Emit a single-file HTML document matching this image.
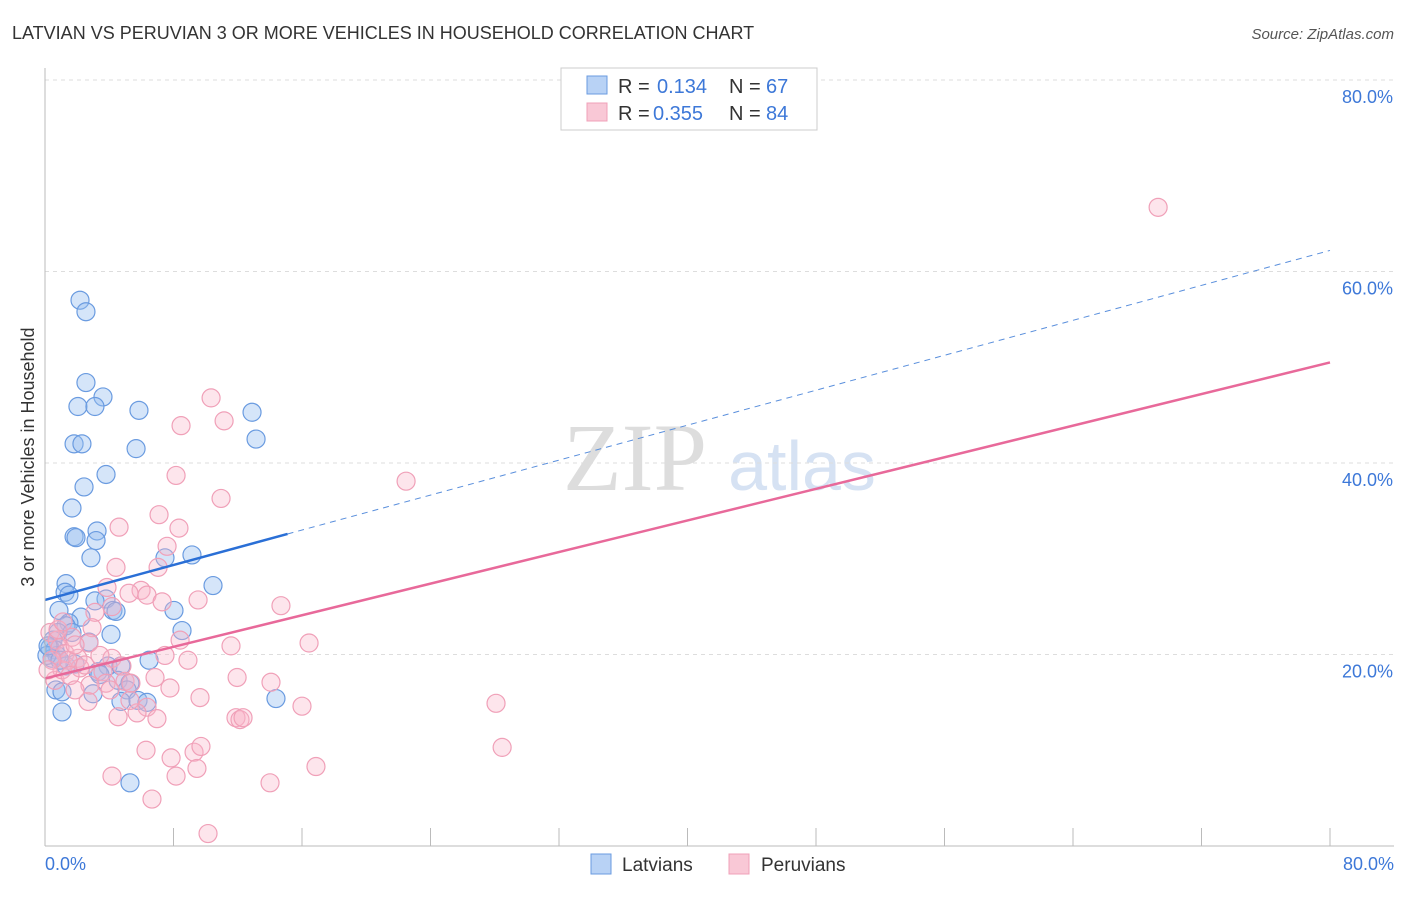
<!DOCTYPE html>
<html><head><meta charset="utf-8"><style>
body{margin:0;background:#fff;font-family:"Liberation Sans",sans-serif;}
</style></head><body>
<svg width="1406" height="892" xmlns="http://www.w3.org/2000/svg" id="chart">
<text x="12" y="39" font-size="18" fill="#333">LATVIAN VS PERUVIAN 3 OR MORE VEHICLES IN HOUSEHOLD CORRELATION CHART</text>
<text x="1394" y="39" font-size="15" fill="#555" font-style="italic" text-anchor="end">Source: ZipAtlas.com</text>
<text x="34" y="457" font-size="18" fill="#333" text-anchor="middle" transform="rotate(-90 34 457)">3 or more Vehicles in Household</text>
<text x="635" y="490" font-size="96" fill="#ddd" font-family="Liberation Serif,serif" text-anchor="middle">ZIP</text>
<text x="802" y="490" font-size="70" fill="#d6e2f3" text-anchor="middle">atlas</text>
<g id="grid"></g><g id="ticks"></g><g id="pts"></g><g id="lines"></g>
<line x1="45" y1="68" x2="45" y2="846" stroke="#bbb"/>
<line x1="45" y1="846" x2="1394" y2="846" stroke="#bbb"/>
<text x="45" y="870" font-size="18" fill="#3d78d8">0.0%</text>
<text x="1394" y="870" font-size="18" fill="#3d78d8" text-anchor="end">80.0%</text>
<g>
<rect x="561" y="68" width="256" height="62" fill="#fff" stroke="#ccc"/>
<rect x="587" y="76" width="20" height="18" fill="#b8d2f5" stroke="#6a9be0"/>
<rect x="587" y="103" width="20" height="18" fill="#f9c8d6" stroke="#f0a0b8"/>
<text x="618" y="93" font-size="20" fill="#333">R =</text>
<text x="657" y="93" font-size="20" fill="#3d78d8">0.134</text>
<text x="729" y="93" font-size="20" fill="#333">N =</text>
<text x="766" y="93" font-size="20" fill="#3d78d8">67</text>
<text x="618" y="120" font-size="20" fill="#333">R =</text>
<text x="653" y="120" font-size="20" fill="#3d78d8">0.355</text>
<text x="729" y="120" font-size="20" fill="#333">N =</text>
<text x="766" y="120" font-size="20" fill="#3d78d8">84</text>
</g>
<g>
<rect x="591" y="854" width="20" height="20" fill="#b8d2f5" stroke="#6a9be0"/>
<text x="622" y="871" font-size="19" fill="#333">Latvians</text>
<rect x="729" y="854" width="20" height="20" fill="#f9c8d6" stroke="#f0a0b8"/>
<text x="761" y="871" font-size="19" fill="#333">Peruvians</text>
</g>
</svg>
<script>
const yTicks=[20,40,60,80];
const xTickVals=[0,8,16,24,32,40,48,56,64,72,80];
const latX=[2.18,2.55,2.55,3.61,2.05,3.11,5.85,12.89,13.14,1.81,2.30,5.67,3.80,2.43,1.68,3.24,1.81,1.93,3.18,2.86,9.15,7.47,1.31,1.25,1.49,10.46,3.80,3.11,4.23,4.42,8.03,0.87,2.24,1.49,1.31,8.53,4.11,0.81,1.68,0.50,2.74,0.31,0.62,0.75,0.44,6.48,1.31,1.87,3.92,4.73,4.55,3.30,5.29,5.11,0.68,2.99,1.06,4.73,5.79,6.35,14.38,1.06,5.29,0.12,0.19,0.93,3.42];
const latY=[57.0,55.8,48.4,46.9,45.9,45.9,45.5,45.3,42.5,42.0,42.0,41.5,38.8,37.5,35.3,32.9,32.3,32.2,31.9,30.1,30.4,30.1,27.4,26.5,26.2,27.2,25.8,25.6,24.6,24.5,24.6,24.6,23.9,23.3,23.0,22.5,22.1,22.3,22.3,21.5,21.3,20.7,20.5,19.9,19.6,19.4,18.8,19.0,18.8,18.8,17.3,18.2,17.0,16.3,16.3,15.9,16.1,15.1,15.2,15.0,15.4,14.0,6.6,19.9,20.9,19.4,17.9];
const perX=[69.30,10.34,11.15,8.47,22.48,8.16,10.96,7.10,4.61,8.34,7.60,7.04,4.42,3.86,5.98,5.23,6.35,7.29,9.53,14.69,4.17,3.11,2.93,1.68,2.74,11.58,16.44,0.31,0.75,0.93,1.25,2.05,7.47,8.90,4.17,4.79,2.18,3.61,6.85,11.96,14.07,3.80,4.98,5.35,7.78,9.65,2.68,16.00,28.08,6.35,5.73,4.55,6.97,11.89,12.14,12.33,6.29,7.85,9.28,9.71,28.46,16.87,4.17,8.16,9.46,14.01,6.66,10.15,0.62,1.06,1.43,1.87,0.44,0.81,2.49,3.42,4.05,8.41,5.29,2.80,1.56,0.19,1.12,1.87];
const perY=[66.7,46.8,44.4,43.9,38.1,38.7,36.3,34.6,33.3,33.2,31.3,29.1,29.1,27.0,26.7,26.4,26.2,25.5,25.7,25.1,25.0,24.4,22.8,21.8,21.2,20.9,21.2,22.3,21.5,20.7,20.1,19.6,19.9,19.4,19.6,18.8,18.6,18.2,17.6,17.6,17.1,17.0,17.2,17.0,16.5,15.5,15.1,14.6,14.9,14.5,13.9,13.5,13.3,13.4,13.2,13.4,10.0,9.2,9.8,10.4,10.3,8.3,7.3,7.3,8.1,6.6,4.9,1.3,17.3,18.4,19.4,21.0,19.4,22.6,18.9,19.9,16.3,21.5,15.2,16.8,17.8,18.4,23.4,16.3];
const latLine=[25.7,62.2], latSolidEnd=15.1;
const perLine=[17.5,50.5];
const X=v=>45+v*16.0625, Y=v=>846-v*9.575;
const NS='http://www.w3.org/2000/svg';
function mk(t,a,p){const e=document.createElementNS(NS,t);for(const k in a)e.setAttribute(k,a[k]);document.getElementById(p).appendChild(e);return e;}
yTicks.forEach(v=>{
 const l=mk('line',{x1:45,x2:1394,y1:Y(v),y2:Y(v),stroke:'#ddd','stroke-dasharray':'4,4'},'grid');
 
 
 const t=mk('text',{x:1393,y:Y(v)+23,'font-size':18,fill:'#3d78d8','text-anchor':'end'},'grid');
 t.textContent=v.toFixed(1)+'%';
 
 
});
xTickVals.forEach(v=>{
 const l=mk('line',{x1:X(v),x2:X(v),y1:828,y2:846,stroke:'#bbb'},'ticks');
 
 
});
latX.forEach((v,i)=>{
 const c=mk('circle',{cx:X(v),cy:Y(latY[i]),r:9,fill:'rgba(150,190,240,0.4)',stroke:'#6a9be0','stroke-width':1.2},'pts');
 
 
});
perX.forEach((v,i)=>{
 const c=mk('circle',{cx:X(v),cy:Y(perY[i]),r:9,fill:'rgba(248,180,200,0.35)',stroke:'#f0a0b8','stroke-width':1.2},'pts');
 
 
});
const ly=x=>latLine[0]+(latLine[1]-latLine[0])*x/80;
let a=mk('line',{x1:X(0),y1:Y(ly(0)),x2:X(latSolidEnd),y2:Y(ly(latSolidEnd)),stroke:'#2a6fd6','stroke-width':2.5},'lines');


a=mk('line',{x1:X(latSolidEnd),y1:Y(ly(latSolidEnd)),x2:X(80),y2:Y(ly(80)),stroke:'#5a8fdc','stroke-width':1,'stroke-dasharray':'6,5'},'lines');


a=mk('line',{x1:X(0),y1:Y(perLine[0]),x2:X(80),y2:Y(perLine[1]),stroke:'#e8699a','stroke-width':2.5},'lines');


</script>
</body></html>
